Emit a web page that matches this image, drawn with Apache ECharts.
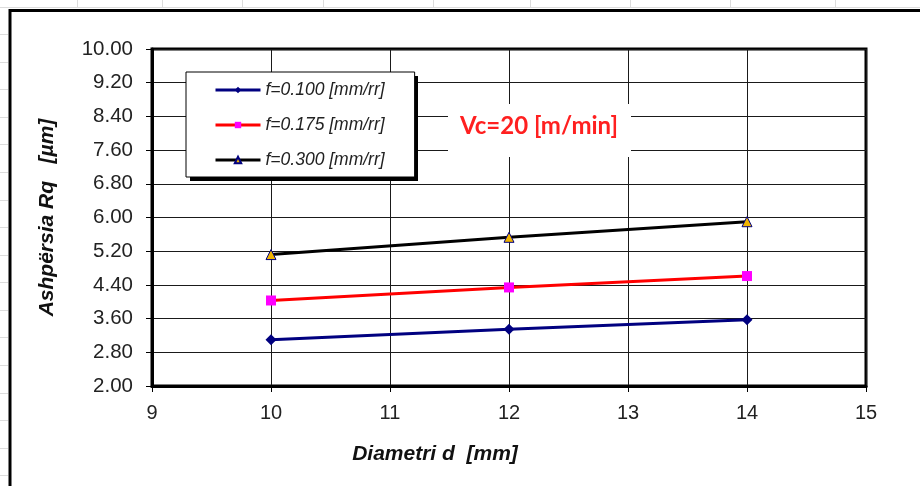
<!DOCTYPE html>
<html>
<head>
<meta charset="utf-8">
<style>
  html, body { margin: 0; padding: 0; background: #fff; }
  #chart { width: 920px; height: 486px; }
</style>
<script src="https://cdn.jsdelivr.net/npm/echarts@6/dist/echarts.min.js"></script>
</head>
<body>
<div id="chart"></div>
<script>
// Roughness Rq vs. workpiece diameter for three feed rates
const diameters = [10, 12, 14];
const rqFeed100 = [3.10, 3.35, 3.57];
const rqFeed175 = [4.03, 4.34, 4.61];
const rqFeed300 = [5.12, 5.53, 5.90];
const seriesNames = ['f=0.100 [mm/rr]', 'f=0.175 [mm/rr]', 'f=0.300 [mm/rr]'];
const cuttingSpeedLabel = 'Vc=20 [m/min]';
const xTitle = 'Diametri d  [mm]';
const yTitle = 'Ashpërsia Rq   [µm]';

// Faint worksheet cell lines around the chart frame
const sheetColumns = [77, 162, 242, 323, 433, 530, 630, 730, 835];
const sheetRows = [7, 34, 62, 89, 117, 144, 172, 200, 227, 255, 282, 310, 337, 365, 393, 420, 448, 475];

const FONT = '"Liberation Sans", Arial, sans-serif';

// Legend box geometry (used for its drop shadow)
const LEGEND_LEFT = 186, LEGEND_TOP = 72, LEGEND_W = 228, LEGEND_H = 105;

function toPairs(xs, ys) { return xs.map((x, i) => [x, ys[i]]); }

const sheetGraphics = [];
sheetColumns.forEach(x => sheetGraphics.push({
  type: 'line', silent: true, z: 0,
  shape: { x1: x + 0.5, y1: 0, x2: x + 0.5, y2: 8 },
  style: { stroke: '#dcdcdc', lineWidth: 1 }
}));
sheetRows.forEach(y => sheetGraphics.push({
  type: 'line', silent: true, z: 0,
  shape: { x1: 0, y1: y + 0.5, x2: 8, y2: y + 0.5 },
  style: { stroke: '#dcdcdc', lineWidth: 1 }
}));
sheetGraphics.push({
  type: 'line', silent: true, z: 0,
  shape: { x1: 0, y1: 7.5, x2: 920, y2: 7.5 },
  style: { stroke: '#dcdcdc', lineWidth: 1 }
});

const chart = echarts.init(document.getElementById('chart'), null, { renderer: 'canvas' });

chart.setOption({
  animation: false,
  backgroundColor: '#ffffff',
  textStyle: { fontFamily: FONT },
  grid: {
    left: 152, right: 54, top: 49, bottom: 100,
    show: true, borderColor: '#000', borderWidth: 3, backgroundColor: 'transparent'
  },
  legend: {
    orient: 'vertical',
    left: LEGEND_LEFT, top: LEGEND_TOP,
    data: seriesNames,
    itemWidth: 45, itemHeight: 8, itemGap: 17,
    padding: [9, 30, 8, 28],
    backgroundColor: '#fff',
    borderColor: '#000', borderWidth: 1,
    z: 10,
    lineStyle: { width: 3 },
    textStyle: { fontFamily: FONT, fontStyle: 'italic', fontSize: 17.5, color: '#222' }
  },
  xAxis: {
    type: 'value', min: 9, max: 15, interval: 1,
    name: xTitle, nameLocation: 'middle', nameGap: 58,
    nameTextStyle: {
      fontFamily: FONT, fontWeight: 'bold', fontStyle: 'italic', fontSize: 21, color: '#111',
      padding: [0, 148, 0, 0]
    },
    axisLine: { show: true, lineStyle: { color: '#000', width: 3 } },
    axisTick: { show: true, inside: false, length: 6, lineStyle: { color: '#000', width: 1 } },
    axisLabel: { fontFamily: FONT, fontSize: 20, color: '#222', margin: 17 },
    splitLine: { show: true, lineStyle: { color: '#1a1a1a', width: 1 } }
  },
  yAxis: {
    type: 'value', min: 2, max: 10, interval: 0.8,
    name: yTitle, nameLocation: 'middle', nameGap: 94, nameRotate: 90,
    nameTextStyle: {
      fontFamily: FONT, fontWeight: 'bold', fontStyle: 'italic', fontSize: 21, color: '#111'
    },
    axisLine: { show: true, lineStyle: { color: '#000', width: 3 } },
    axisTick: { show: true, inside: false, length: 6, lineStyle: { color: '#000', width: 1 } },
    axisLabel: {
      fontFamily: FONT, fontSize: 20.5, color: '#222', margin: 19,
      formatter: v => v.toFixed(2)
    },
    splitLine: { show: true, lineStyle: { color: '#1a1a1a', width: 1 } }
  },
  graphic: [
    ...sheetGraphics,
    // chart frame
    {
      type: 'polyline', silent: true, z: 1,
      shape: { points: [[10, 486], [10, 10.5], [920, 10.5]] },
      style: { stroke: '#000', lineWidth: 3, fill: null }
    },
    // legend drop shadow
    {
      type: 'rect', silent: true, z: 5,
      shape: { x: LEGEND_LEFT + 4, y: LEGEND_TOP + 4, width: LEGEND_W, height: LEGEND_H },
      style: { fill: '#000' }
    },
    // cutting-speed note on a white patch
    {
      type: 'rect', silent: true, z: 50,
      shape: { x: 448, y: 104, width: 183, height: 53 },
      style: { fill: '#fff' }
    },
    {
      type: 'text', silent: true, z: 51,
      x: 539, y: 126,
      style: {
        text: cuttingSpeedLabel,
        fontFamily: 'Lato, "Open Sans", sans-serif', fontWeight: 'bold', fontSize: 24,
        fill: '#ff2020', align: 'center', verticalAlign: 'middle'
      }
    }
  ],
  series: [
    {
      name: seriesNames[0], type: 'line', data: toPairs(diameters, rqFeed100),
      symbol: 'diamond', symbolSize: 11,
      lineStyle: { color: '#000080', width: 3 },
      itemStyle: { color: '#000080' }
    },
    {
      name: seriesNames[1], type: 'line', data: toPairs(diameters, rqFeed175),
      symbol: 'rect', symbolSize: 10,
      lineStyle: { color: '#ff0000', width: 3 },
      itemStyle: { color: '#ff00ff' }
    },
    {
      name: seriesNames[2], type: 'line', data: toPairs(diameters, rqFeed300),
      symbol: 'triangle', symbolSize: 10,
      lineStyle: { color: '#000000', width: 3 },
      itemStyle: { color: '#f0b400', borderColor: '#000080', borderWidth: 1 }
    }
  ]
});
</script>
</body>
</html>
